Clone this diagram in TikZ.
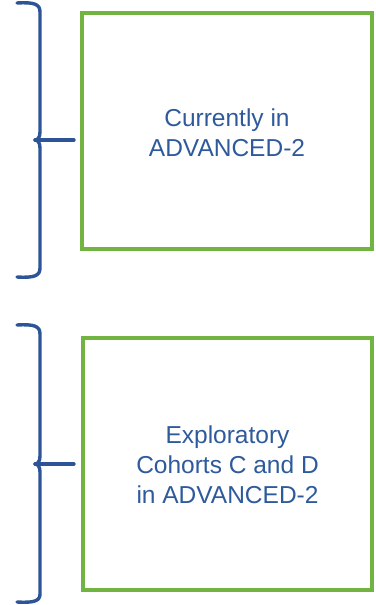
\documentclass[tikz,border=0pt]{standalone}
\usepackage{fontspec}
\setmainfont{Liberation Sans}
\usepackage{tikz}
\usetikzlibrary{positioning}
\definecolor{armblue}{RGB}{44,84,150}
\definecolor{armtext}{RGB}{46,90,156}
\definecolor{armgreen}{RGB}{114,180,66}

\begin{document}
\begin{tikzpicture}[x=1pt,y=-1pt,
	cohort/.style={draw=armgreen,line width=3.2pt,inner sep=0pt},
	cohorttext/.style={text=armtext,align=center,font=\fontsize{24.5}{29.8}\selectfont},
	brace/.style={draw=armblue,line width=3.4pt,line cap=round,line join=round}]

	\useasboundingbox (0,0) rectangle (375,605);

	% The boxes
	\node [cohort,minimum width=290pt,minimum height=236pt] at (227,131) (box1) {};
	\node [cohort,minimum width=289pt,minimum height=252pt] at (227.5,464) (box2) {};
	\node [cohorttext] at (227,133) (t1) {Currently in\\ADVANCED-2};
	\node [cohorttext] at (227.5,465) (t2) {Exploratory\\Cohorts C and D\\in ADVANCED-2};

	% The braces
	\coordinate (c1) at (35,140);
	\coordinate (e1) at (74,140);
	\coordinate (c2) at (35,464);
	\coordinate (e2) at (74,464);

	\path[brace]
	(17,3) .. controls (34,2) and (40,4) .. (40,12) -- (40,132)
	.. controls (40,137) and (38,140) .. (c1)
	.. controls (38,140) and (40,143) .. (40,148) -- (40,268)
	.. controls (40,276) and (34,278) .. (17,277);
	\path[brace] (c1) -- (e1);

	\path[brace]
	(17,325) .. controls (34,324) and (40,326) .. (40,334) -- (40,456)
	.. controls (40,461) and (38,464) .. (c2)
	.. controls (38,464) and (40,467) .. (40,472) -- (40,594)
	.. controls (40,601) and (34,603) .. (17,602);
	\path[brace] (c2) -- (e2);

\end{tikzpicture}
\end{document}
